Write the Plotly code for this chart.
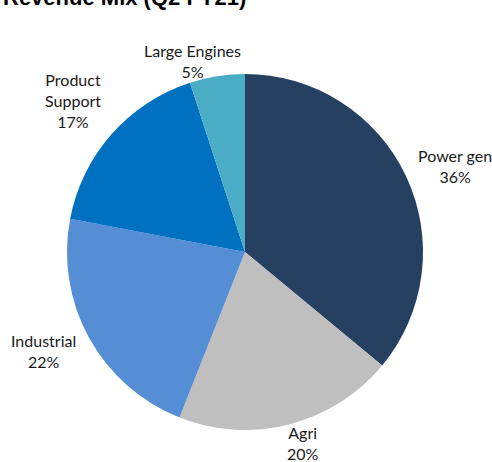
import plotly.graph_objects as go

W, H = 492, 462

categories = ["Power gen", "Agri", "Industrial", "Product Support", "Large Engines"]
shares = [36, 20, 22, 17, 5]
label_text = ["Power gen<br>36%", "Agri<br>20%", "Industrial<br>22%", "Product<br>Support<br>17%", "Large Engines<br>5%"]
colors = ["#264061", "#BFBFBF", "#558ED5", "#0070C0", "#4BACC6"]

# label centres in pixels (x from left, y from top)
label_px = [(455, 166), (303, 443), (43, 351), (73, 100), (192, 61)]

cx, cy, r = 245, 252, 178

fig = go.Figure(go.Pie(
    labels=categories,
    values=shares,
    sort=False,
    direction="clockwise",
    rotation=0,
    marker=dict(colors=colors, line=dict(width=0)),
    textinfo="none",
    hoverinfo="label+percent",
    domain=dict(x=[(cx - r) / W, (cx + r) / W], y=[(H - cy - r) / H, (H - cy + r) / H]),
    showlegend=False,
))

annotations = []
for txt, (px, py) in zip(label_text, label_px):
    annotations.append(dict(
        text=txt, x=px / W, y=1 - py / H, xref="paper", yref="paper",
        xanchor="center", yanchor="middle", showarrow=False, align="center",
        font=dict(family="Lato", size=16, color="#1a1a1a"),
    ))

annotations.append(dict(
    text="<b>Revenue Mix (Q2 FY21)</b>", x=1 / W, y=1 + 2.5 / H, xref="paper", yref="paper",
    xanchor="left", yanchor="middle", showarrow=False,
    font=dict(family="Liberation Sans", size=22, color="#000000"),
))

fig.update_layout(
    width=W, height=H,
    margin=dict(l=0, r=0, t=0, b=0),
    paper_bgcolor="white", plot_bgcolor="white",
    annotations=annotations,
)

fig.write_html(
    "out.html",
    config={"displayModeBar": False},
    post_script="document.body.style.margin='0';document.body.style.overflow='hidden';",
)
